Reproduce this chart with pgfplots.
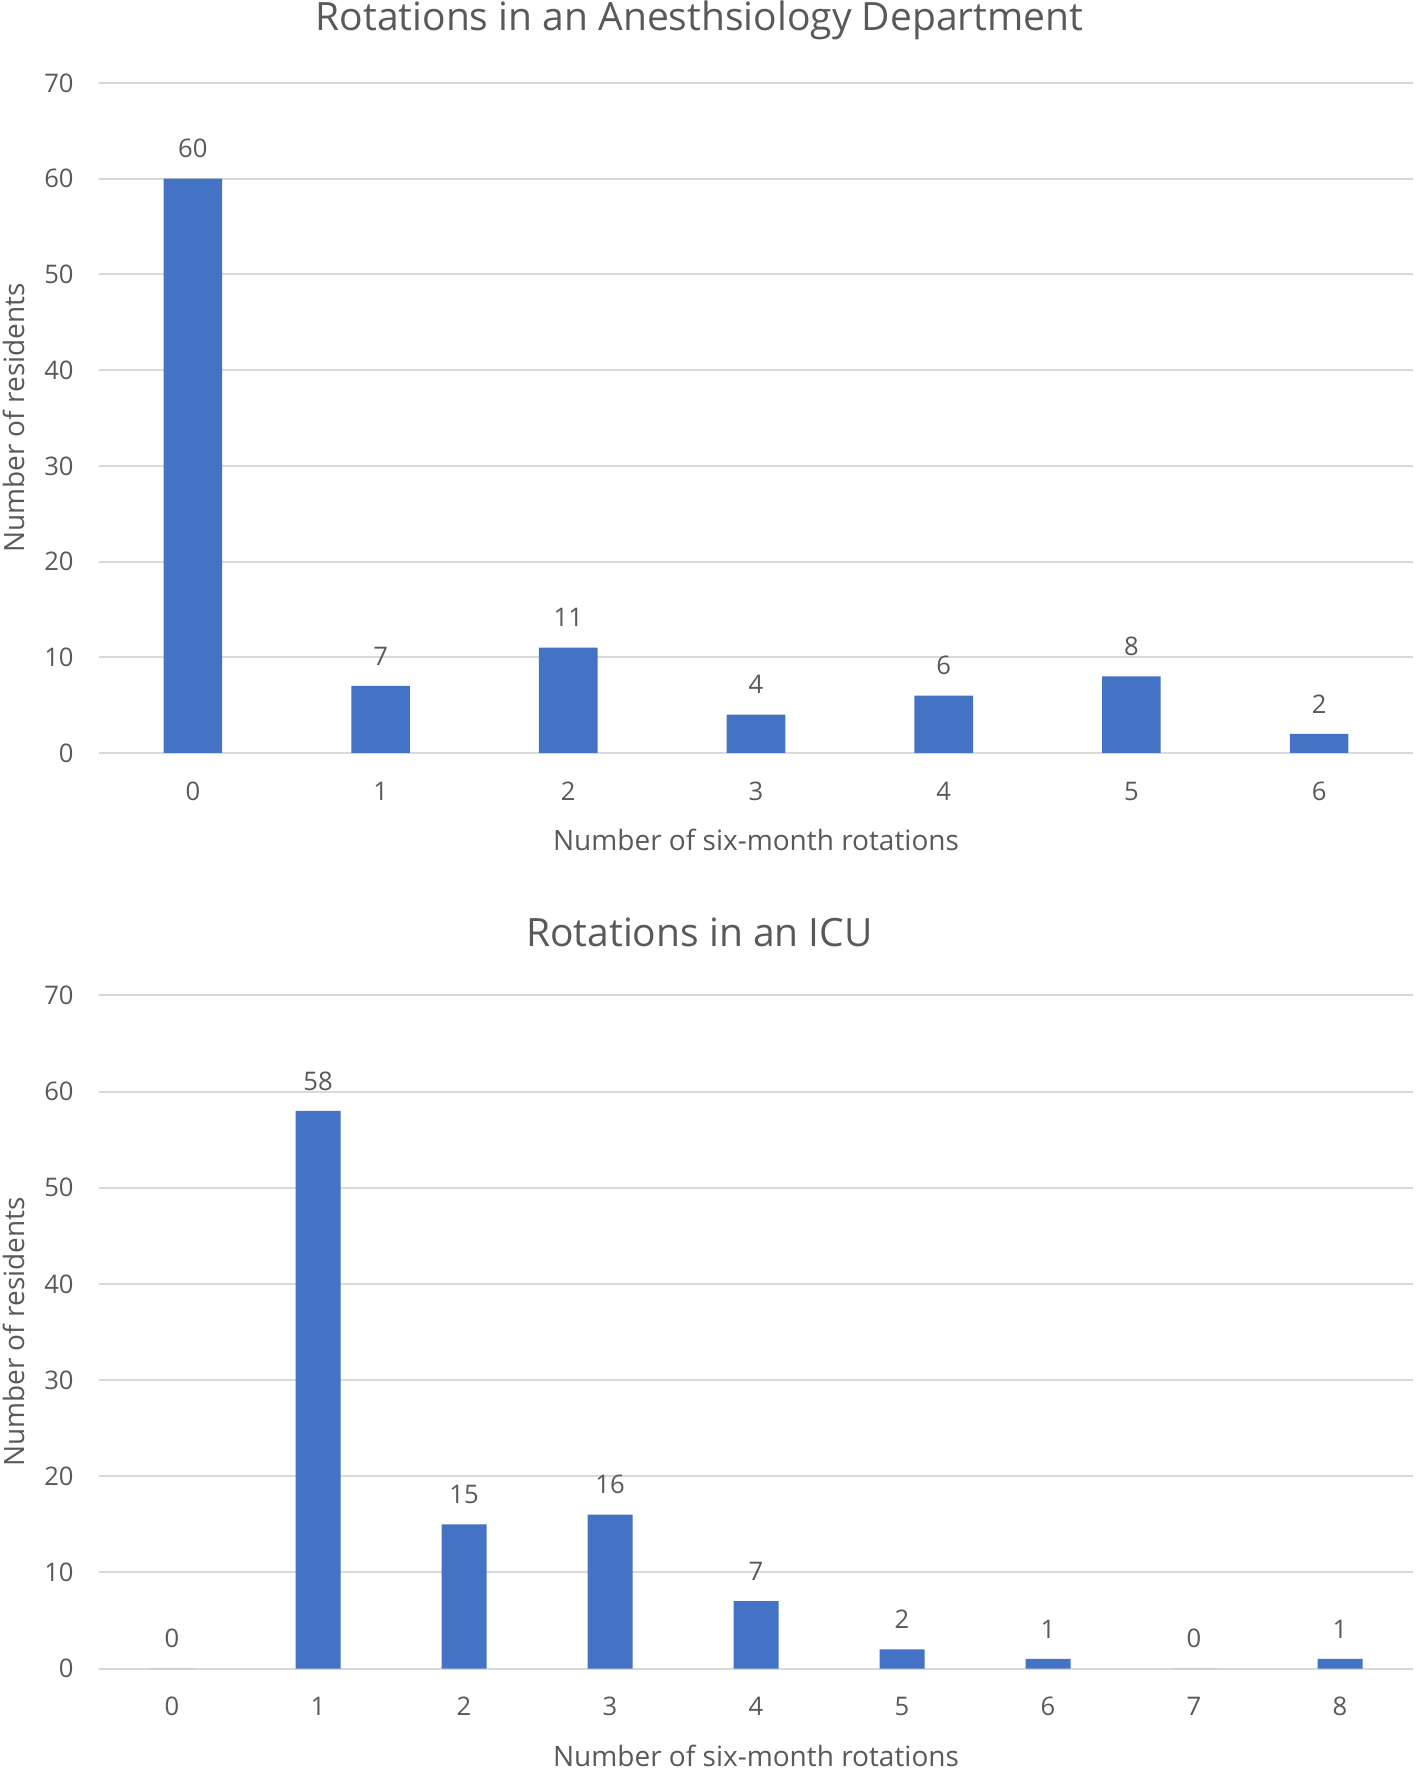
\documentclass[border=0pt]{standalone}
\usepackage{pgfplots}
\pgfplotsset{compat=1.18}
\usepackage{fontspec}
\setmainfont{Open Sans}
\definecolor{barblue}{HTML}{4472C4}
\definecolor{txtgray}{HTML}{595959}
\definecolor{gridgray}{HTML}{D9D9D9}
\pgfplotsset{
  mystyle/.style={
    scale only axis,
    width=657pt,
    ymin=0, ymax=70,
    ytick={0,10,...,70},
    ymajorgrids,
    grid style={gridgray, line width=1pt},
    axis line style={draw=none},
    major tick length=0pt,
    tick style={draw=none},
    xtick=data,
    ybar,
    enlarge x limits=false,
    /pgf/number format/assume math mode=true,
    ticklabel style={font=\fontsize{12.8pt}{14pt}\selectfont, text=txtgray, inner sep=0pt},
    xticklabel style={anchor=center, yshift=-19pt},
    yticklabel style={anchor=east, xshift=-12.5pt},
    xlabel={Number of six-month rotations},
    ylabel={Number of residents},
    label style={font=\fontsize{14pt}{16pt}\selectfont, text=txtgray},
    xlabel style={at={(axis description cs:0.5,0)}, anchor=center, yshift=-43.5pt},
    ylabel style={at={(axis description cs:-0.065,0.5)}, anchor=center, rotate=0},
    title style={font=\fontsize{19.5pt}{22pt}\selectfont, text=txtgray, at={(axis description cs:0.457,1)}, anchor=center, yshift=25.5pt},
    nodes near coords,
    every node near coord/.append style={font=\fontsize{12.8pt}{14pt}\selectfont, text=txtgray, anchor=center, yshift=15pt},
  }
}
\begin{document}
\begin{tikzpicture}
\useasboundingbox (0,0) rectangle (708pt,884pt);
\begin{axis}[mystyle,
  at={(49.5pt,507.5pt)}, anchor=south west,
  height=335pt,
  xmin=-0.5, xmax=6.5,
  bar width=29.3pt,
  title={Rotations in an Anesthsiology Department},
]
\addplot[fill=barblue, draw=none] coordinates {(0,60) (1,7) (2,11) (3,4) (4,6) (5,8) (6,2)};
\end{axis}
\begin{axis}[mystyle,
  at={(49.5pt,49.75pt)}, anchor=south west,
  height=336.5pt,
  xmin=-0.5, xmax=8.5,
  bar width=22.5pt,
  title={Rotations in an ICU},
]
\addplot[fill=barblue, draw=none] coordinates {(0,0) (1,58) (2,15) (3,16) (4,7) (5,2) (6,1) (7,0) (8,1)};
\end{axis}
\end{tikzpicture}
\end{document}
